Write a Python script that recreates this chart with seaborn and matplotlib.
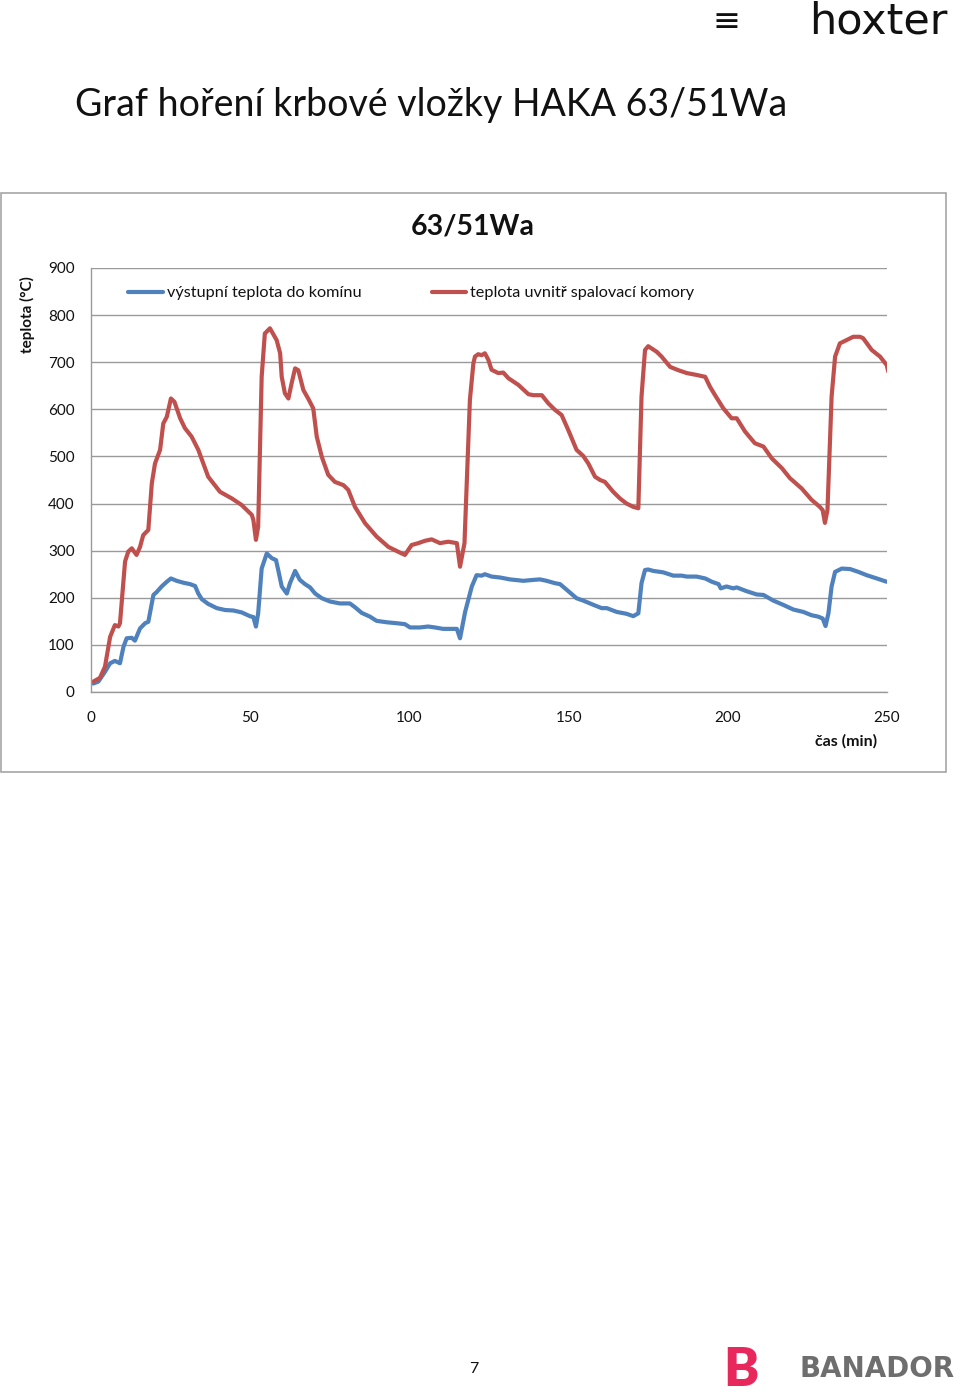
import numpy as np
import pandas as pd
import matplotlib
matplotlib.use("Agg")
import matplotlib.pyplot as plt
from matplotlib.patches import Rectangle
import seaborn as sns

# =========================
# DATA
# =========================
blue_label = "výstupní teplota do komínu"
red_label = "teplota uvnitř spalovací komory"

blue_time = [0.7, 2.3, 4.4, 6.0, 7.5, 9.1, 10.2, 11.2, 12.8, 13.8, 15.4, 17.0, 18.0, 19.6, 20.6,
             22.2, 23.8, 25.1, 26.9, 29.0, 31.1, 32.7, 33.7, 34.8, 36.8, 39.5, 42.1, 44.7, 47.3,
             49.9, 51.0, 51.8, 52.5, 53.6, 55.2, 56.8, 58.1, 58.8, 59.9, 61.5, 62.5, 64.1, 65.6,
             67.2, 68.8, 70.4, 72.5, 75.1, 78.2, 81.3, 82.9, 85.0, 87.6, 89.7, 92.9, 96.0, 98.6,
             100.2, 103.3, 105.9, 108.0, 110.6, 114.9, 115.9, 117.5, 119.6, 121.1, 122.7, 123.7,
             125.8, 128.5, 131.6, 135.8, 139.0, 141.0, 143.1, 145.7, 147.3, 149.4, 152.5, 154.6,
             157.8, 160.4, 162.0, 165.1, 168.2, 170.3, 171.9, 172.9, 174.0, 175.0, 176.6, 179.7,
             182.9, 185.5, 187.1, 190.2, 192.9, 195.0, 197.1, 197.8, 199.6, 201.7, 202.8, 205.9,
             209.1, 211.2, 214.3, 217.4, 220.6, 223.7, 226.3, 228.4, 229.8, 230.7, 231.6, 232.6,
             233.7, 235.8, 238.4, 241.0, 243.6, 246.8, 249.9]
blue_temp = [18, 22, 43, 61, 66, 61, 96, 114, 115, 109, 135, 146, 149, 206, 212,
             224, 234, 241, 236, 232, 229, 225, 209, 197, 187, 178, 174, 173, 169,
             161, 159, 139, 167, 262, 294, 284, 280, 259, 224, 209, 231, 257, 238,
             229, 222, 209, 199, 192, 188, 188, 180, 168, 160, 151, 148, 146, 144,
             137, 137, 139, 137, 134, 134, 114, 170, 224, 248, 247, 250,
             245, 243, 239, 236, 238, 239, 236, 231, 229, 217, 199, 194,
             185, 178, 178, 170, 166, 161, 167, 231, 259, 260, 257, 254,
             247, 247, 245, 245, 241, 234, 229, 220, 224, 220, 222, 214,
             207, 206, 194, 185, 175, 170, 163, 160, 156, 140, 167, 224,
             255, 262, 261, 255, 248, 241, 234]

red_time = [0.7, 2.8, 4.4, 6.0, 7.5, 8.6, 9.1, 10.7, 11.7, 12.8, 14.3, 15.4, 16.4, 18.0, 19.1,
            20.1, 21.7, 22.7, 23.8, 25.1, 26.2, 28.0, 29.5, 31.6, 33.7, 36.8, 38.4, 40.5, 44.2,
            47.3, 50.5, 51.0, 51.8, 52.5, 53.6, 54.6, 56.2, 58.3, 59.4, 59.9, 60.9, 62.0, 63.0,
            64.1, 65.1, 66.7, 68.2, 69.8, 70.9, 72.5, 74.5, 76.6, 79.3, 80.8, 82.9, 86.1, 89.7,
            93.4, 97.0, 98.6, 100.7, 102.8, 104.9, 107.0, 109.6, 112.2, 114.9, 115.9, 117.3,
            119.0, 120.1, 120.6, 121.6, 122.7, 123.7, 124.8, 125.8, 127.9, 129.5, 131.1, 134.2,
            137.4, 139.0, 141.6, 143.6, 145.7, 147.8, 149.9, 152.5, 154.6, 156.2, 158.3, 159.9,
            161.4, 164.0, 166.1, 168.2, 170.3, 171.9, 172.9, 174.0, 175.0, 177.7, 179.2, 181.9,
            184.5, 187.1, 190.2, 192.9, 194.4, 196.0, 198.6, 201.2, 202.8, 205.4, 208.5, 211.2,
            213.8, 217.0, 219.5, 223.2, 226.3, 228.9, 229.8, 230.5, 231.3, 232.6, 233.7, 235.2,
            237.3, 239.4, 241.5, 242.5, 245.2, 247.8, 249.9, 250.4]
red_temp = [22, 30, 54, 117, 142, 139, 146, 277, 298, 305, 291, 308, 333, 344, 443,
            485, 514, 570, 584, 623, 616, 581, 560, 542, 514, 457, 443, 425, 411,
            397, 376, 365, 323, 351, 669, 761, 772, 747, 719, 669, 634, 623, 655,
            687, 683, 641, 623, 602, 542, 499, 461, 446, 439, 429, 393, 358, 330,
            308, 296, 291, 312, 316, 321, 324, 316, 319, 316, 266, 316,
            620, 698, 712, 717, 715, 719, 705, 684, 677, 678, 666, 652,
            632, 630, 630, 613, 599, 588, 556, 514, 501, 485, 457, 450,
            446, 425, 411, 400, 393, 390, 627, 726, 734, 722, 712, 690,
            683, 677, 673, 669, 648, 630, 602, 581, 581, 553, 528, 521,
            496, 475, 454, 432, 408, 393, 386, 359, 386, 627, 712, 740,
            747, 754, 754, 751, 726, 712, 694, 680]

y_ticks = [0, 100, 200, 300, 400, 500, 600, 700, 800, 900]
x_ticks = [0, 50, 100, 150, 200, 250]

BLUE = "#4F81BD"
RED = "#C0504D"
GRID = "#9A9A9A"
TEXT = "#111111"

# =========================
# STYLE
# =========================
sns.set_theme(style="white")
plt.rcParams["font.family"] = ["Lato", "DejaVu Sans"]

W, H = 960, 1400
fig = plt.figure(figsize=(W / 100, H / 100), dpi=100)


def fx(px):
    return px / W


def fy(py):
    return 1 - py / H


# chart frame
fig.patches.append(Rectangle((fx(1), fy(772)), fx(945), (772 - 193) / H,
                             transform=fig.transFigure, fill=False,
                             edgecolor="#A6A6A6", linewidth=1.2))

# =========================
# PLOT
# =========================
ax = fig.add_axes([fx(91), fy(692), (887 - 91) / W, (692 - 268) / H])

df_blue = pd.DataFrame({"cas": blue_time, "teplota": blue_temp})
df_red = pd.DataFrame({"cas": red_time, "teplota": red_temp})

sns.lineplot(data=df_blue, x="cas", y="teplota", ax=ax, color=BLUE, linewidth=3.0,
             label=blue_label, estimator=None)
sns.lineplot(data=df_red, x="cas", y="teplota", ax=ax, color=RED, linewidth=3.0,
             label=red_label, estimator=None)

ax.set_xlim(0, 250)
ax.set_ylim(0, 900)
ax.set_yticks(y_ticks)
ax.set_xticks(x_ticks)
ax.set_yticklabels([str(v) for v in y_ticks], fontsize=11, color=TEXT)
ax.set_xticklabels([str(v) for v in x_ticks], fontsize=11, color=TEXT)
ax.tick_params(axis="both", length=0)
ax.tick_params(axis="y", pad=11.7)
ax.tick_params(axis="x", pad=14)
ax.yaxis.grid(True, color=GRID, linewidth=1)
ax.xaxis.grid(False)
ax.set_axisbelow(True)
for side in ["top", "right"]:
    ax.spines[side].set_visible(False)
for side in ["left", "bottom"]:
    ax.spines[side].set_color(GRID)
    ax.spines[side].set_linewidth(1)
ax.set_xlabel("")
ax.set_ylabel("")

ax.legend(loc="center left", bbox_to_anchor=(fx(128), fy(293)),
          bbox_transform=fig.transFigure, ncol=2, frameon=False, fontsize=11.7,
          handlelength=2.15, handletextpad=0.25, columnspacing=4.3,
          borderpad=0, borderaxespad=0, labelcolor=TEXT)

# =========================
# TEXTS
# =========================
fig.text(fx(75), fy(105), "Graf hoření krbové vložky HAKA 63/51Wa", fontsize=27,
         color=TEXT, ha="left", va="center")
fig.text(fx(473), fy(226), "63/51Wa", fontsize=20.5, fontweight="bold",
         color=TEXT, ha="center", va="center")
fig.text(fx(27), fy(315), "teplota (°C)", fontsize=11, fontweight="bold",
         rotation=90, ha="center", va="center", color=TEXT)
fig.text(fx(877), fy(741), "čas (min)", fontsize=11.5, fontweight="bold",
         ha="right", va="center", color=TEXT)
fig.text(fx(474), fy(1369), "7", fontsize=11.5, ha="center", va="center", color=TEXT)

# logos as text
fig.text(fx(726), fy(22), "≡", fontsize=24, ha="center", va="center",
         color="#111111", family=["DejaVu Sans"])
fig.text(fx(948), fy(33), "hoxter", fontsize=31, ha="right", va="baseline",
         color="#111111", family=["DejaVu Sans"])
fig.text(fx(741), fy(1370), "B", fontsize=38, fontweight="heavy", ha="center",
         va="center", color="#E8285C")
fig.text(fx(955), fy(1369), "BANADOR", fontsize=20, fontweight="bold", ha="right",
         va="center", color="#6E6E6E", family=["DejaVu Sans"])

fig.savefig("out.png", dpi=100)
